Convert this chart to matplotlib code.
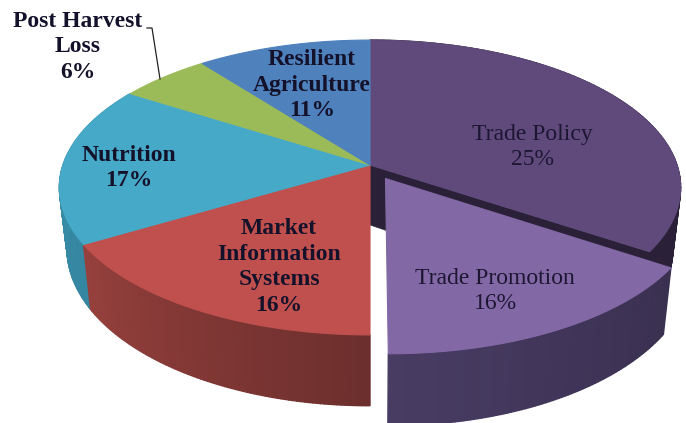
import numpy as np
import matplotlib
matplotlib.use("Agg")
import matplotlib.pyplot as plt
from matplotlib.patches import Polygon

labels = ["Trade Policy\n25%", "Trade Promotion\n16%", "Market\nInformation\nSystems\n16%",
          "Nutrition\n17%", "Post Harvest\nLoss\n6%", "Resilient\nAgriculture\n11%"]
# the printed 25% does not fit the drawn slice, which is about a third of the pie
shares = [34.3, 15.7, 16.5, 17.5, 5.5, 10.5]
top_colors = ["#5f4a7b", "#8368a6", "#c0504e", "#46a9c7", "#9bbb59", "#4f81bd"]
wall_left = ["#2a2138", "#483c63", "#96403d", "#3d93ad", "#7a9446", "#3e6594"]
wall_right = ["#2a2138", "#3a3050", "#6c2f2d", "#3586a0", "#7a9446", "#3e6594"]
bold = [False, False, True, True, True, True]
text_pos = [(532, 147), (495, 291), (279, 267), (129, 168), (78, 47), (312, 85)]

cx, cy = 370, 165
bx, by = 307, 144
persp = 0.1525
depth = 60
shrink = 0.975
explode = 0.105


def project(u, v, low=False):
    w = 1 + persp * v
    x = cx + bx * u / w
    y = cy - by * v / w
    if low:
        x = cx + (x - cx) * shrink
        y = y + depth / w
    return x, y


def rim(a0, a1, ox=0.0, oy=0.0):
    t = np.radians(np.linspace(a0, a1, 90))
    return np.sin(t) + ox, np.cos(t) + oy


def draw_poly(ax, xs, ys, color, lw=0.4):
    ax.add_patch(Polygon(np.column_stack([xs, ys]), closed=True, fc=color, ec=color, lw=lw))


def draw_wall(ax, a0, a1, c0, c1, ox=0.0, oy=0.0):
    u, v = rim(a0, a1, ox, oy)
    c0 = np.array(matplotlib.colors.to_rgb(c0))
    c1 = np.array(matplotlib.colors.to_rgb(c1))
    for i in range(len(u) - 1):
        x0, y0 = project(u[i], v[i])
        x1, y1 = project(u[i + 1], v[i + 1])
        x2, y2 = project(u[i + 1], v[i + 1], True)
        x3, y3 = project(u[i], v[i], True)
        col = c0 + (c1 - c0) * i / (len(u) - 2)
        draw_poly(ax, [x0, x1, x2, x3], [y0, y1, y2, y3], tuple(col), lw=1.0)


def draw_top(ax, a0, a1, color, ox=0.0, oy=0.0):
    u, v = rim(a0, a1, ox, oy)
    x, y = project(np.r_[ox, u], np.r_[oy, v])
    draw_poly(ax, x, y, color, lw=0.8)


fig = plt.figure(figsize=(6.86, 4.23), dpi=100)
ax = fig.add_axes([0, 0, 1, 1])
ax.set_xlim(0, 686)
ax.set_ylim(423, 0)
ax.axis("off")

edges = np.r_[0, np.cumsum(shares)] * 3.6

# dark cut face and rim of the slice behind the exploded one
end = edges[1]
u_end, v_end = np.sin(np.radians(end)), np.cos(np.radians(end))
x0, y0 = project(0, 0)
x1, y1 = project(u_end, v_end)
x2, y2 = project(u_end, v_end, True)
x3, y3 = project(0, 0, True)
draw_poly(ax, [x0, x1, x2, x3], [y0, y1, y2, y3], wall_left[0])
draw_wall(ax, edges[0], edges[1], wall_left[0], wall_right[0])

# remaining walls, front to left
for i in [3, 2]:
    draw_wall(ax, edges[i], edges[i + 1], wall_right[i], wall_left[i])

# tops of the slices that stay in place
for i in [0, 2, 3, 4, 5]:
    draw_top(ax, edges[i], edges[i + 1], top_colors[i])

# exploded slice
mid = np.radians((edges[1] + edges[2]) / 2)
ox, oy = explode * np.sin(mid), explode * np.cos(mid)
draw_wall(ax, edges[1], edges[2], wall_right[1], wall_left[1], ox, oy)
draw_top(ax, edges[1], edges[2], top_colors[1], ox, oy)

for lab, (tx, ty), b in zip(labels, text_pos, bold):
    ax.text(tx, ty, lab, ha="center", va="center", multialignment="center",
            family="Liberation Serif", fontsize=17, linespacing=1.31,
            fontweight="bold" if b else "normal", color="#1d1633" if not b else "#14122b")

ax.plot([147, 152, 160], [28, 28, 79], color="#222222", lw=0.9)

fig.savefig("out.png", dpi=100, facecolor="white")
